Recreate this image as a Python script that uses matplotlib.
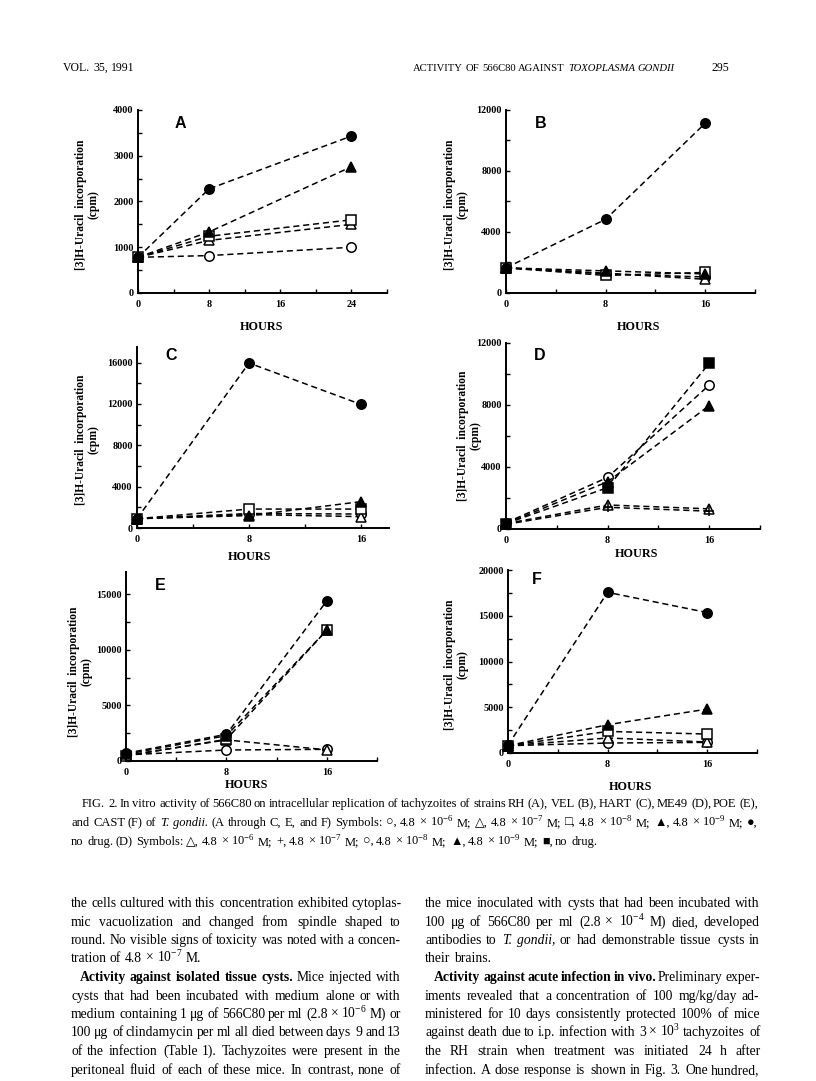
import matplotlib
matplotlib.use("Agg")
import matplotlib.pyplot as plt
from matplotlib.ticker import MultipleLocator

plt.rcParams['font.family'] = ['Liberation Serif', 'DejaVu Sans']
plt.rcParams['mathtext.fontset'] = 'custom'
plt.rcParams['mathtext.rm'] = 'Liberation Serif'
plt.rcParams['mathtext.it'] = 'Liberation Serif:italic'
plt.rcParams['mathtext.bf'] = 'Liberation Serif:bold'

# ---- data (cpm) ----
symbols_std = ['open circle', 'open triangle', 'open square', 'filled triangle', 'filled circle']
symbols_d = ['open triangle', 'plus', 'open circle', 'filled triangle', 'filled square']

hours_a = [0, 8, 24]
hours_bf = [0, 8, 16]

panel_a = [[780, 818, 1000],
           [780, 1150, 1500],
           [780, 1240, 1600],
           [780, 1336, 2760],
           [780, 2277, 3430]]
panel_b = [[1650, 1250, 1050],
           [1650, 1300, 900],
           [1650, 1150, 1350],
           [1650, 1450, 1250],
           [1650, 4830, 11130]]
panel_c = [[900, 1400, 1350],
           [900, 1300, 1100],
           [900, 1830, 1830],
           [900, 1200, 2550],
           [900, 15950, 11950]]
panel_d = [[350, 1550, 1300],
           [300, 1400, 1150],
           [400, 3330, 9290],
           [350, 3050, 7960],
           [350, 2670, 10690]]
panel_e = [[550, 990, 1050],
           [500, 1900, 1000],
           [450, 1950, 11770],
           [600, 2280, 11770],
           [700, 2400, 14400]]
panel_f = [[800, 1090, 1160],
           [800, 1640, 1200],
           [800, 2360, 2070],
           [800, 3090, 4800],
           [850, 17560, 15350]]

W, H = 816, 1081
fig = plt.figure(figsize=(W / 100, H / 100), dpi=100)
renderer = fig.canvas.get_renderer()


def fx(x):
    return x / W


def fy(y):
    return 1 - y / H


marker_style = {
    'open circle': dict(marker='o', mfc='white'),
    'open triangle': dict(marker='^', mfc='white'),
    'open square': dict(marker='s', mfc='white'),
    'filled triangle': dict(marker='^', mfc='black'),
    'filled circle': dict(marker='o', mfc='black'),
    'filled square': dict(marker='s', mfc='black'),
    'plus': dict(marker='+', mfc='black'),
}

# letter, hours, values, symbols, (left, right, top, bottom) px, ymax, ymajor, yminor, xmax,
# letter pos, ylabel centre, HOURS pos
panels = [
    ('A', hours_a, panel_a, symbols_std, (138, 387, 110, 293), 4000, 1000, 500, 28,
     (175, 124), (87, 205), (261, 327)),
    ('B', hours_bf, panel_b, symbols_std, (506, 755, 110, 293), 12000, 4000, 2000, 20,
     (535, 124), (456, 205), (638, 327)),
    ('C', hours_bf, panel_c, symbols_std, (137, 389, 347, 528), 17500, 4000, 2000, 18,
     (165, 356), (87, 440), (249, 557)),
    ('D', hours_bf, panel_d, symbols_d, (506, 760, 343, 529), 12000, 4000, 2000, 20,
     (534, 355), (469, 436), (636, 554)),
    ('E', hours_bf, panel_e, symbols_std, (126, 377, 572, 761), 17000, 5000, 2500, 20,
     (155, 585), (80, 672), (246, 785)),
    ('F', hours_bf, panel_f, symbols_std, (508, 757, 570, 753), 20000, 5000, 2500, 20,
     (532, 580), (456, 665), (630, 787)),
]

for (letter, hours, values, syms, box, ymax, ymaj, ymin, xmax,
     lpos, ylpos, hpos) in panels:
    l, r, t, b = box
    ax = fig.add_axes([fx(l), fy(b), (r - l) / W, (b - t) / H])
    for sym, vals in zip(syms, values):
        ax.plot(hours, vals, color='black', linestyle=(0, (4, 2.5)), lw=1.1,
                ms=6.8, mec='black', mew=1.1, clip_on=False, **marker_style[sym])
    ax.set_xlim(0, xmax)
    ax.set_ylim(0, ymax)
    ax.spines['top'].set_visible(False)
    ax.spines['right'].set_visible(False)
    ax.spines['left'].set_linewidth(1.4)
    ax.spines['bottom'].set_linewidth(1.4)
    ax.xaxis.set_major_locator(MultipleLocator(8))
    ax.xaxis.set_minor_locator(MultipleLocator(4))
    ax.yaxis.set_major_locator(MultipleLocator(ymaj))
    ax.yaxis.set_minor_locator(MultipleLocator(ymin))
    ax.tick_params(which='both', direction='in', length=3, width=1, labelsize=7.3)
    ax.tick_params(axis='x', pad=5)
    ax.tick_params(axis='y', pad=3)
    for lab in ax.get_xticklabels() + ax.get_yticklabels():
        lab.set_fontweight('bold')
    fig.text(fx(lpos[0]), fy(lpos[1]), letter, family='Liberation Sans',
             fontweight='bold', fontsize=11.5, ha='left', va='center')
    fig.text(fx(ylpos[0]), fy(ylpos[1]), '[3]H-Uracil  incorporation\n(cpm)',
             rotation=90, ha='center', va='center', multialignment='center',
             fontsize=8.3, fontweight='bold', linespacing=1.1)
    fig.text(fx(hpos[0]), fy(hpos[1]), 'HOURS', ha='center', va='center',
             fontsize=8.7, fontweight='bold')


def text_line(segments, x0, y, width=None, size=9.0):
    # place words one by one; stretch gaps when a width is given (justified)
    y = round(y)
    words = []
    for s, weight, style in segments:
        for w in s.split():
            t = fig.text(0, 0, w, fontsize=size, fontweight=weight, fontstyle=style,
                         ha='left', va='baseline')
            words.append((t, t.get_window_extent(renderer).width))
    total = sum(w for _, w in words)
    if width is None or len(words) < 2:
        gap = size * 100 / 72 * 0.25
    else:
        gap = (width - total) / (len(words) - 1)
    x = x0
    for t, w in words:
        t.set_position((fx(round(x)), fy(y)))
        x += w + gap


N, B, I = 'normal', 'bold', 'italic'

# running head
text_line([('VOL. 35, 1991', N, N)], 63, 71, size=8.5)
text_line([('ACTIVITY OF 566C80 AGAINST', N, N), ('TOXOPLASMA GONDII', N, I)], 413, 71, size=7.7)
text_line([('295', N, N)], 712, 71, size=8.5)

# caption
cap = [
    ([('FIG. 2. In vitro activity of 566C80 on intracellular replication of tachyzoites '
       'of strains RH (A), VEL (B), HART (C), ME49 (D), POE (E),', N, N)], 82, 676),
    ([('and CAST (F) of', N, N), ('T. gondii.', N, I),
      ('(A through C, E, and F) Symbols: ○, 4.8 × 10$^{-6}$ M; △, 4.8 × 10$^{-7}$ M; '
       '□, 4.8 × 10$^{-8}$ M; ▲, 4.8 × 10$^{-9}$ M; ●,', N, N)], 71, 687),
    ([('no drug. (D) Symbols: △, 4.8 × 10$^{-6}$ M; +, 4.8 × 10$^{-7}$ M; '
       '○, 4.8 × 10$^{-8}$ M; ▲, 4.8 × 10$^{-9}$ M; ■, no drug.', N, N)], 71, None),
]
for i, (segs, x0, wd) in enumerate(cap):
    text_line(segs, x0, 807 + i * 19, width=wd, size=9.0)

left_col = [
    ([('the cells cultured with this concentration exhibited cytoplas-', N, N)], 0, True),
    ([('mic vacuolization and changed from spindle shaped to', N, N)], 0, True),
    ([('round. No visible signs of toxicity was noted with a concen-', N, N)], 0, True),
    ([('tration of 4.8 × 10$^{-7}$ M.', N, N)], 0, False),
    ([('Activity against isolated tissue cysts.', B, N), ('Mice injected with', N, N)], 9, True),
    ([('cysts that had been incubated with medium alone or with', N, N)], 0, True),
    ([('medium containing 1 μg of 566C80 per ml (2.8 × 10$^{-6}$ M) or', N, N)], 0, True),
    ([('100 μg of clindamycin per ml all died between days 9 and 13', N, N)], 0, True),
    ([('of the infection (Table 1). Tachyzoites were present in the', N, N)], 0, True),
    ([('peritoneal fluid of each of these mice. In contrast, none of', N, N)], 0, True),
]
right_col = [
    ([('the mice inoculated with cysts that had been incubated with', N, N)], 0, True),
    ([('100 μg of 566C80 per ml (2.8 × 10$^{-4}$ M) died, developed', N, N)], 0, True),
    ([('antibodies to', N, N), ('T. gondii,', N, I),
      ('or had demonstrable tissue cysts in', N, N)], 0, True),
    ([('their brains.', N, N)], 0, False),
    ([('Activity against acute infection in vivo.', B, N), ('Preliminary exper-', N, N)], 9, True),
    ([('iments revealed that a concentration of 100 mg/kg/day ad-', N, N)], 0, True),
    ([('ministered for 10 days consistently protected 100% of mice', N, N)], 0, True),
    ([('against death due to i.p. infection with 3 × 10$^{3}$ tachyzoites of', N, N)], 0, True),
    ([('the RH strain when treatment was initiated 24 h after', N, N)], 0, True),
    ([('infection. A dose response is shown in Fig. 3. One hundred,', N, N)], 0, True),
]
for col, x0, wd in [(left_col, 71, 330), (right_col, 425, 335)]:
    for i, (segs, indent, just) in enumerate(col):
        text_line(segs, x0 + indent, 907 + i * 18.5,
                  width=(wd - indent) if just else None, size=9.8)

fig.savefig('out.png', dpi=100)
